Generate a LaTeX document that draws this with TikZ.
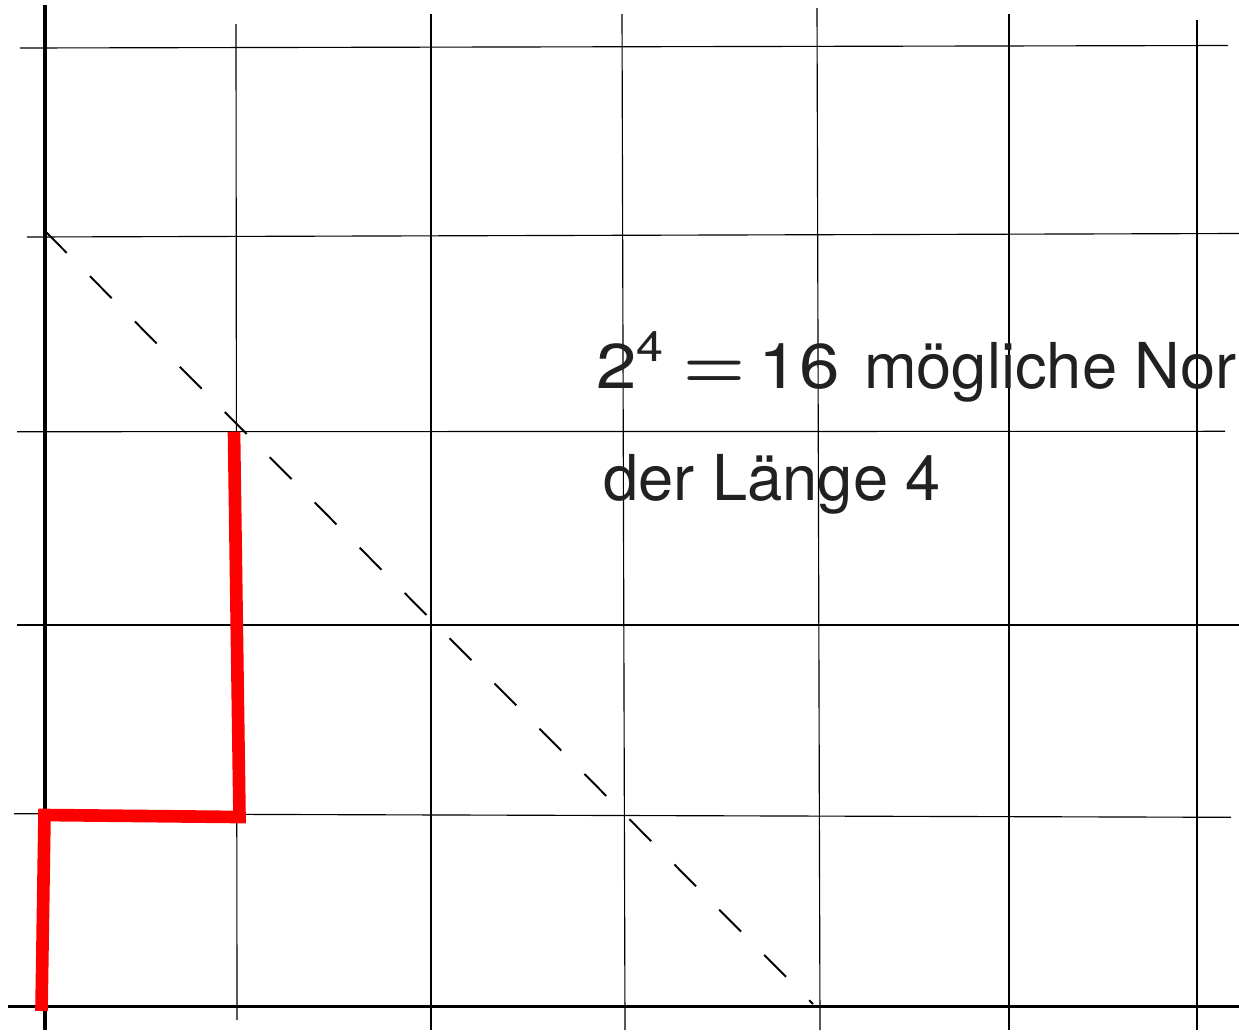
\documentclass[tikz,border=0pt]{standalone}
\usepackage{fontspec}
\setmainfont{TeX Gyre Heros}
\newfontfamily\lmfont{Latin Modern Roman}
\begin{document}
\begin{tikzpicture}[x=0.02cm,y=-0.02cm,
  gridline/.style={line width=0.65pt,black},
  axisline/.style={line width=2pt,black},
  redpath/.style={line width=7.2pt,red,line join=miter},
  dashline/.style={line width=1.1pt,black,dash pattern=on 17.6pt off 18.7pt},
  label/.style={inner sep=0pt,anchor=base west,text=black!87,font=\fontsize{36}{43}\selectfont}]
\useasboundingbox (0,0) rectangle (1239,1032);
% vertical grid lines
\draw[gridline] (236,24) -- (237,1020);
\draw[gridline] (431,14) -- (431,1030);
\draw[gridline] (622,14) -- (625,1030);
\draw[gridline] (817,8) -- (820,1030);
\draw[gridline] (1009,14) -- (1009,1030);
\draw[gridline] (1197,20) -- (1197,1030);
% horizontal grid lines
\draw[gridline] (20,48) -- (1228,45.5);
\draw[gridline] (27,237) -- (1239,233.5);
\draw[gridline] (17,431.7) -- (1225,431.3);
\draw[gridline] (17,625) -- (1239,625);
\draw[gridline] (14,813.7) -- (1231,817.3);
% axes
\draw[axisline] (45,5) -- (45,1030);
\draw[axisline] (8,1006.5) -- (1239,1006.5);
% red path
\coordinate (r0) at (41.5,1011);
\coordinate (r1) at (44.5,815);
\coordinate (r2) at (239.5,817);
\coordinate (r3) at (234,431.7);
\draw[redpath] (r0) -- (r1) -- (r2) -- (r3);
% dashed diagonal
\coordinate (d0) at (45,231);
\coordinate (d1) at (813,1004);
\draw[dashline] (d0) -- (d1);
% text
\node[label] (t1) at (596,388) {\scalebox{1.15}[1]{2}\raisebox{15pt}{\scalebox{1.15}[1]{\fontsize{24}{28}\selectfont 4}}\hspace{11.3pt}\scalebox{1.12}{\lmfont\bfseries =}\hspace{7.4pt}\scalebox{1.15}[1]{16}\hspace{4pt} mögliche Nor};
\node[label] (t2) at (603,500) {der Länge 4};
\end{tikzpicture}
\end{document}
